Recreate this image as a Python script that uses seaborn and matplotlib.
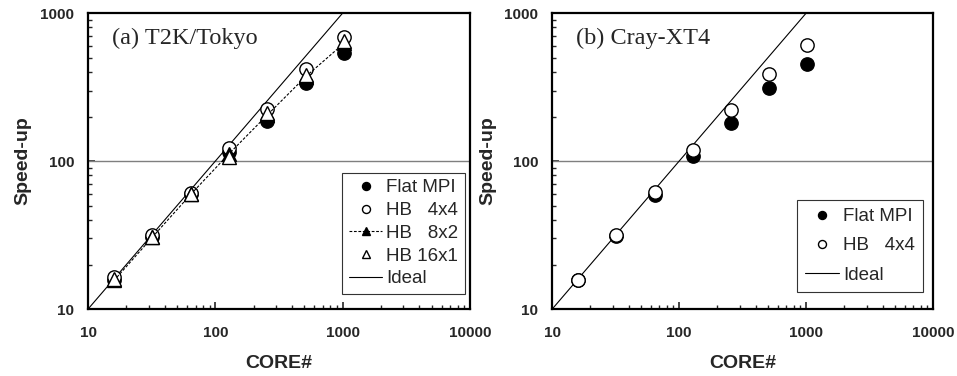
import matplotlib
matplotlib.use("Agg")
import matplotlib.pyplot as plt
import matplotlib.ticker as mticker
import seaborn as sns
import pandas as pd

sns.set_style("ticks")
plt.rcParams["font.family"] = ["Liberation Sans", "DejaVu Sans"]

# Core counts and measured speed-ups
cores = [16, 32, 64, 128, 256, 512, 1024]

t2k_flat_mpi = [15.6, 30.8, 59.5, 115, 187, 339, 535]
t2k_hb_4x4 = [16.4, 31.7, 61.0, 122, 224, 421, 695]
t2k_hb_8x2 = [15.6, 30.6, 59.5, 112, 205, 372, 625]
t2k_hb_16x1 = [15.9, 30.6, 60.0, 106, 210, 380, 648]

cray_flat_mpi = [15.8, 31.0, 58.6, 109, 180, 311, 455]
cray_hb_4x4 = [15.8, 31.5, 61.4, 118, 220, 389, 611]

ideal_x = [10, 10000]
ideal_y = [10, 10000]

panel_titles = ["(a) T2K/Tokyo", "(b) Cray-XT4"]
tick_values = [10, 100, 1000, 10000]

fig = plt.figure(figsize=(9.57, 3.76), dpi=100)
ax_a = fig.add_axes([0.092, 0.178, 0.399, 0.787])
ax_b = fig.add_axes([0.577, 0.178, 0.398, 0.787])

MS = 9.6


def draw_series(ax, y, label, marker, filled, dashed=False):
    df = pd.DataFrame({"cores": cores, "speedup": y})
    sns.lineplot(
        data=df, x="cores", y="speedup", ax=ax, label=label,
        marker=marker, markersize=MS,
        markerfacecolor="black" if filled else "white",
        markeredgecolor="black", markeredgewidth=1.0,
        color="black", linewidth=0.8 if dashed else 0,
        linestyle=(0, (2.5, 1.5)) if dashed else "None",
        zorder=4,
    )


def style_axes(ax, title):
    ax.axhline(100, color="#7f7f7f", linewidth=1.0, zorder=1)
    ax.set_xscale("log")
    ax.set_yscale("log")
    ax.set_xlim(10, 10000)
    ax.set_ylim(10, 1000)
    fmt = mticker.FuncFormatter(lambda v, p: f"{v:g}")
    ax.xaxis.set_major_locator(mticker.FixedLocator(tick_values))
    ax.yaxis.set_major_locator(mticker.FixedLocator(tick_values[:3]))
    ax.xaxis.set_major_formatter(fmt)
    ax.yaxis.set_major_formatter(fmt)
    ax.xaxis.set_minor_locator(mticker.LogLocator(base=10, subs=range(2, 10)))
    ax.yaxis.set_minor_locator(mticker.LogLocator(base=10, subs=range(2, 10)))
    ax.xaxis.set_minor_formatter(mticker.NullFormatter())
    ax.yaxis.set_minor_formatter(mticker.NullFormatter())
    ax.tick_params(which="major", direction="in", length=5, width=1.2,
                   labelsize=11, top=False, right=False)
    ax.tick_params(axis="x", which="major", pad=12)
    ax.tick_params(axis="y", which="major", pad=10)
    ax.tick_params(which="minor", direction="in", length=3, width=1.0,
                   top=False, right=False)
    for lbl in ax.get_xticklabels() + ax.get_yticklabels():
        lbl.set_fontweight("bold")
    for side in ["left", "bottom", "top", "right"]:
        ax.spines[side].set_visible(True)
        ax.spines[side].set_linewidth(1.6)
        ax.spines[side].set_color("black")
    ax.set_xlabel("CORE#", fontsize=14, fontweight="bold", labelpad=11)
    ax.set_ylabel("Speed-up", fontsize=14, fontweight="bold", labelpad=6)
    ax.text(0.063, 0.915, title, transform=ax.transAxes,
            family=["Liberation Serif", "DejaVu Serif"], fontsize=17.5,
            va="center", ha="left")


# Panel (a): T2K/Tokyo
draw_series(ax_a, t2k_flat_mpi, "Flat MPI", "o", True)
draw_series(ax_a, t2k_hb_4x4, "HB   4x4", "o", False)
draw_series(ax_a, t2k_hb_8x2, "HB   8x2", "^", True, dashed=True)
draw_series(ax_a, t2k_hb_16x1, "HB 16x1", "^", False)
sns.lineplot(x=ideal_x, y=ideal_y, ax=ax_a, color="black", linewidth=0.8,
             label="Ideal", zorder=3)
style_axes(ax_a, panel_titles[0])
leg_a = ax_a.legend(loc="lower right", bbox_to_anchor=(0.987, 0.051),
                    borderaxespad=0, fontsize=13.5, markerscale=0.6,
                    handlelength=1.8, handletextpad=0.2, labelspacing=0.3,
                    fancybox=False, framealpha=1, edgecolor="#333333",
                    borderpad=0.35)
leg_a.get_frame().set_linewidth(0.8)

# Panel (b): Cray-XT4
draw_series(ax_b, cray_flat_mpi, "Flat MPI", "o", True)
draw_series(ax_b, cray_hb_4x4, "HB   4x4", "o", False)
sns.lineplot(x=ideal_x, y=ideal_y, ax=ax_b, color="black", linewidth=0.8,
             label="Ideal", zorder=3)
style_axes(ax_b, panel_titles[1])
leg_b = ax_b.legend(loc="lower right", bbox_to_anchor=(0.974, 0.057),
                    borderaxespad=0, fontsize=13.5, markerscale=0.6,
                    handlelength=1.8, handletextpad=0.2, labelspacing=0.65,
                    fancybox=False, framealpha=1, edgecolor="#333333",
                    borderpad=0.45)
leg_b.get_frame().set_linewidth(0.8)

fig.savefig("out.png", dpi=100)
